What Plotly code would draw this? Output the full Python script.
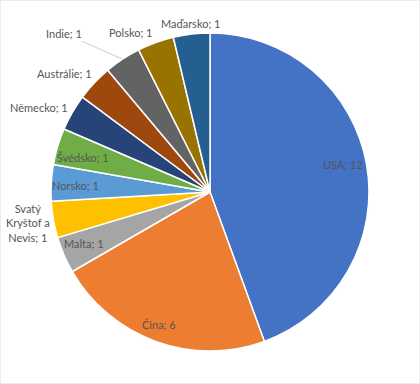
import math
import plotly.graph_objects as go

# ---- data ----
countries = ["USA", "Čína", "Malta", "Svatý Kryštof a Nevis", "Norsko", "Švédsko",
             "Německo", "Austrálie", "Indie", "Polsko", "Maďarsko"]
counts = [12, 6, 1, 1, 1, 1, 1, 1, 1, 1, 1]
label_texts = ["USA; 12", "Čína; 6", "Malta; 1", "Svatý<br>Kryštof a<br>Nevis; 1", "Norsko; 1",
               "Švédsko; 1", "Německo; 1", "Austrálie; 1", "Indie; 1", "Polsko; 1", "Maďarsko; 1"]

# ---- style ----
colors = ["#4472C4", "#ED7D31", "#A5A5A5", "#FFC000", "#5B9BD5", "#70AD47",
          "#264478", "#9E480E", "#636363", "#997300", "#255E91"]
W, H = 420, 384
CX, CY, R = 210, 192, 159
# per-label pixel offsets from the slice's outer-edge midpoint (style)
shifts = [(-24, 0), (3, 17), (20, 11), (-25, -3), (24, -3), (25, -11),
          (-33, 5), (-30, 9), None, (-25, 10), (-1, 11)]
leader = (-59, -26)
font_family = "Lato"
text_color = "#555555"

fig = go.Figure(go.Pie(
    labels=countries, values=counts, sort=False, direction="clockwise", rotation=0,
    marker=dict(colors=colors, line=dict(color="white", width=1.5)),
    textinfo="none", hoverinfo="label+value", showlegend=False,
    domain=dict(x=[(CX - R) / W, (CX + R) / W], y=[1 - (CY + R) / H, 1 - (CY - R) / H]),
))

total = sum(counts)
cum = 0
annotations = []
for i, v in enumerate(counts):
    mid = (cum + v / 2) / total * 2 * math.pi
    cum += v
    px = CX + R * math.sin(mid)
    py = CY - R * math.cos(mid)
    x, y = px / W, 1 - py / H
    if shifts[i] is None:
        annotations.append(dict(x=x, y=y, xref="paper", yref="paper", text=label_texts[i],
                                showarrow=True, arrowhead=0, arrowwidth=0.8, arrowcolor="#BFBFBF",
                                ax=leader[0], ay=leader[1],
                                font=dict(family=font_family, size=11, color=text_color)))
    else:
        dx, dy = shifts[i]
        annotations.append(dict(x=x, y=y, xref="paper", yref="paper", text=label_texts[i],
                                showarrow=False, xshift=dx, yshift=dy, align="center",
                                xanchor="center", yanchor="middle",
                                font=dict(family=font_family, size=11, color=text_color)))

fig.update_layout(
    width=W, height=H, margin=dict(l=0, r=0, t=0, b=0),
    paper_bgcolor="white", plot_bgcolor="white",
    annotations=annotations,
    shapes=[dict(type="rect", xref="paper", yref="paper", x0=0, y0=0, x1=1, y1=1,
                 line=dict(color="#D9D9D9", width=1))],
)
fig.write_html("out.html", config={"displayModeBar": False},
               post_script="document.body.style.margin='0';document.body.style.overflow='hidden';")
